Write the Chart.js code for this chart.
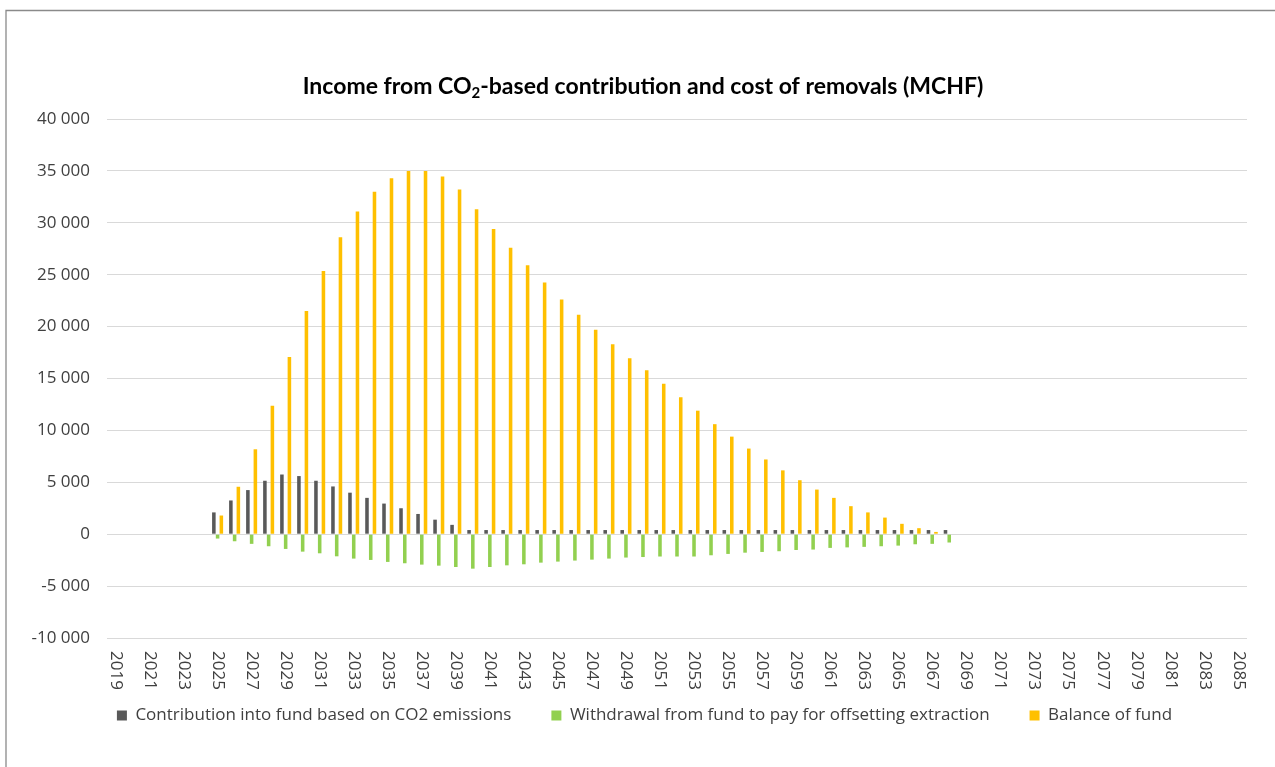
<!DOCTYPE html>
<html>
<head>
<meta charset="utf-8">
<title>Income from CO2-based contribution and cost of removals</title>
<script src="https://cdn.jsdelivr.net/npm/chart.js@4.4.0/dist/chart.umd.min.js"></script>
<style>
  html, body { margin: 0; padding: 0; background: #ffffff; }
  #wrap { position: relative; width: 1275px; height: 767px; }
</style>
</head>
<body>
<div id="wrap"><canvas id="chart" width="1275" height="767"></canvas></div>
<script>
// Years on the category axis
const years = [
  '2019','2020','2021','2022','2023','2024','2025','2026','2027','2028',
  '2029','2030','2031','2032','2033','2034','2035','2036','2037','2038',
  '2039','2040','2041','2042','2043','2044','2045','2046','2047','2048',
  '2049','2050','2051','2052','2053','2054','2055','2056','2057','2058',
  '2059','2060','2061','2062','2063','2064','2065','2066','2067','2068',
  '2069','2070','2071','2072','2073','2074','2075','2076','2077','2078',
  '2079','2080','2081','2082','2083','2084','2085'
];

// Contribution into fund based on CO2 emissions (MCHF)
const contribution = [
  null, null, null, null, null, null,
  2100, 3250, 4250, 5150, 5750, 5600, 5150, 4600, 4000, 3500,
  2950, 2500, 1950, 1400, 900, 400, 400, 400, 400, 400,
  400, 400, 400, 400, 400, 400, 400, 400, 400, 400,
  400, 400, 400, 400, 400, 400, 400, 400, 400, 400,
  400, 400, 400, 400,
  null, null, null, null, null, null, null, null, null, null,
  null, null, null, null, null, null, null
];

// Withdrawal from fund to pay for offsetting extraction (MCHF)
const withdrawal = [
  null, null, null, null, null, null,
  -420, -680, -930, -1160, -1420, -1680, -1840, -2130, -2350, -2480,
  -2670, -2800, -2930, -3030, -3160, -3320, -3160, -3000, -2900, -2740,
  -2640, -2540, -2450, -2350, -2250, -2200, -2150, -2150, -2150, -2030,
  -1900, -1780, -1710, -1640, -1520, -1480, -1320, -1270, -1220, -1160,
  -1100, -970, -930, -800,
  null, null, null, null, null, null, null, null, null, null,
  null, null, null, null, null, null, null
];

// Balance of fund (MCHF)
const balance = [
  null, null, null, null, null, null,
  1800, 4570, 8180, 12370, 17070, 21500, 25350, 28600, 31100, 33000,
  34300, 35000, 35000, 34450, 33200, 31300, 29400, 27600, 25900, 24250,
  22600, 21150, 19700, 18300, 16950, 15800, 14500, 13200, 11900, 10600,
  9400, 8250, 7200, 6150, 5200, 4300, 3500, 2700, 2100, 1600,
  1000, 580, 220, 0,
  null, null, null, null, null, null, null, null, null, null,
  null, null, null, null, null, null, null
];

const seriesNames = [
  'Contribution into fund based on CO2 emissions',
  'Withdrawal from fund to pay for offsetting extraction',
  'Balance of fund'
];

const TEXT = '#404040';
const UI_FONT = '"Open Sans", "Noto Sans", sans-serif';

// "40 000" style thousands grouping
function groupThousands(v) {
  const s = Math.abs(v).toString().replace(/\B(?=(\d{3})+(?!\d))/g, ' ');
  return (v < 0 ? '-' : '') + s;
}

// White page, outer frame, title with a subscript 2, rotated year labels
const framePlugin = {
  id: 'frameAndTitle',
  beforeDraw(chart) {
    const ctx = chart.ctx;
    ctx.save();
    ctx.fillStyle = '#ffffff';
    ctx.fillRect(0, 0, chart.width, chart.height);
    ctx.strokeStyle = '#8a8a8a';
    ctx.lineWidth = 1.3;
    ctx.beginPath();
    ctx.moveTo(6, chart.height);
    ctx.lineTo(6, 10.5);
    ctx.lineTo(chart.width, 10.5);
    ctx.stroke();
    ctx.restore();
  },
  afterDraw(chart) {
    const ctx = chart.ctx;
    ctx.save();
    const big = 'bold 23px Lato, "Open Sans", sans-serif';
    const small = 'bold 15px Lato, "Open Sans", sans-serif';
    const partA = 'Income from CO';
    const partB = '2';
    const partC = '-based contribution and cost of removals (MCHF)';
    ctx.font = big;
    const wA = ctx.measureText(partA).width;
    const wC = ctx.measureText(partC).width;
    ctx.font = small;
    const wB = ctx.measureText(partB).width;
    const total = wA + wB + wC;
    let x = 643 - total / 2;
    const y = 94;
    ctx.fillStyle = '#000000';
    ctx.textBaseline = 'alphabetic';
    ctx.textAlign = 'left';
    ctx.font = big;
    ctx.fillText(partA, x, y);
    x += wA;
    ctx.font = small;
    ctx.fillText(partB, x, y + 4);
    x += wB;
    ctx.font = big;
    ctx.fillText(partC, x, y);

    // Year labels every second category, rotated to read downward
    const xs = chart.scales.x;
    ctx.font = '17px ' + UI_FONT;
    ctx.fillStyle = TEXT;
    ctx.textAlign = 'left';
    ctx.textBaseline = 'middle';
    for (let i = 0; i < years.length; i += 2) {
      const px = xs.getPixelForTick(i);
      ctx.save();
      ctx.translate(px, chart.chartArea.bottom + 13);
      ctx.rotate(Math.PI / 2);
      ctx.fillText(years[i], 0, 0);
      ctx.restore();
    }
    ctx.restore();
  }
};

new Chart(document.getElementById('chart'), {
  type: 'bar',
  data: {
    labels: years,
    datasets: [
      { label: seriesNames[0], data: contribution, backgroundColor: '#595959' },
      { label: seriesNames[1], data: withdrawal, backgroundColor: '#92d050' },
      { label: seriesNames[2], data: balance, backgroundColor: '#ffc000' }
    ]
  },
  options: {
    responsive: false,
    animation: false,
    devicePixelRatio: 1,
    layout: { padding: { top: 119, right: 0, left: 14, bottom: 33 } },
    datasets: {
      bar: { categoryPercentage: 0.66, barPercentage: 0.95 }
    },
    scales: {
      x: {
        grid: { display: false, drawTicks: false },
        border: { display: false },
        ticks: { display: false, autoSkip: false },
        afterFit(scale) { scale.height = 29; }
      },
      y: {
        min: -10000,
        max: 40000,
        grid: { color: '#d9d9d9', lineWidth: 1, drawTicks: false },
        border: { display: false },
        ticks: {
          stepSize: 5000,
          padding: 17,
          color: TEXT,
          font: { family: UI_FONT, size: 17 },
          callback: (v) => groupThousands(v)
        },
        afterFit(scale) { scale.width = 93; }
      },
      // empty right-hand margin strip beside the plot
      yRight: {
        position: 'right',
        grid: { display: false, drawTicks: false },
        border: { display: false },
        ticks: { display: false },
        afterFit(scale) { scale.width = 28; }
      }
    },
    plugins: {
      title: { display: false },
      tooltip: { enabled: false },
      legend: {
        position: 'bottom',
        labels: {
          boxWidth: 10,
          boxHeight: 10,
          padding: 40,
          color: TEXT,
          font: { family: UI_FONT, size: 17 }
        }
      }
    }
  },
  plugins: [framePlugin]
});
</script>
</body>
</html>
